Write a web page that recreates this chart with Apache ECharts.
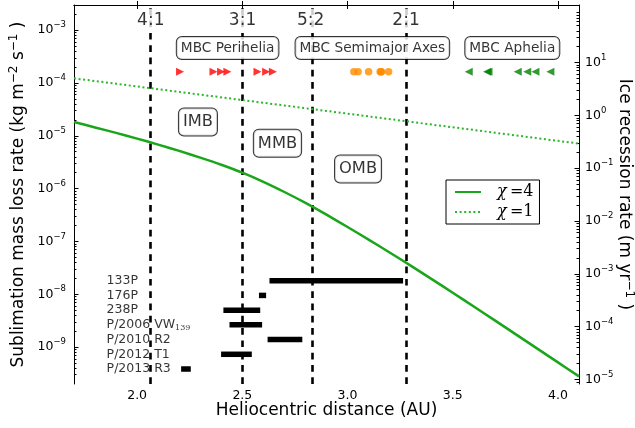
<!DOCTYPE html>
<html><head><meta charset="utf-8">
<script src="https://cdn.jsdelivr.net/npm/echarts@6/dist/echarts.min.js"></script>
<style>html,body{margin:0;padding:0;background:#fff}#c{width:635px;height:428px}</style>
</head><body><div id="c"></div><script>
// ---------------- data ----------------
// chi = 4 sublimation curve (AU, kg m^-2 s^-1)
const solidR = [1.7,1.8,1.9,2.0,2.1,2.2,2.3,2.4,2.5,2.6,2.7,2.8,2.9,3.0,3.1,3.2,3.3,3.4,3.5,3.6,3.7,3.8,3.9,4.0,4.1];
const solidRate = [1.827e-5,1.443e-5,1.136e-5,8.86e-6,6.82e-6,5.18e-6,3.87e-6,2.84e-6,2.01e-6,1.347e-6,8.64e-7,5.37e-7,3.21e-7,1.878e-7,1.084e-7,6.18e-8,3.48e-8,1.938e-8,1.071e-8,5.87e-9,3.20e-9,1.738e-9,9.44e-10,5.13e-10,2.786e-10];
// chi = 1 curve
const dottedR = [1.7,1.9,2.1,2.3,2.5,2.7,2.9,3.1,3.3,3.5,3.7,3.9,4.1];
const dottedRate = [1.228e-4,9.69e-5,7.64e-5,6.03e-5,4.755e-5,3.75e-5,2.96e-5,2.335e-5,1.841e-5,1.453e-5,1.146e-5,9.04e-6,7.13e-6];
// resonances
const resNames = ['4:1','3:1','5:2','2:1'];
const resAU = [2.065,2.501,2.825,3.278];
// main-belt comets
const mbcNames = ['133P','176P','238P','P/2006 VW139','P/2010 R2','P/2012 T1','P/2013 R3'];
const mbcPerihelion = [2.645,2.572,2.363,2.429,2.613,2.399,2.204];
const mbcSemimajor  = [3.16,3.195,3.16,3.05,3.10,3.155,3.03];
const mbcAphelion   = [3.67,3.809,3.964,3.663,3.576,3.893,3.854];
const activeStart = [2.629,2.579,2.410,2.439,2.620,2.399,2.209];
const activeEnd   = [3.264,2.613,2.585,2.594,2.785,2.545,2.255];
// text annotations
const boxTitles = ['MBC Perihelia','MBC Semimajor Axes','MBC Aphelia'];
const regionNames = ['IMB','MMB','OMB'];
// axis ticks
const xTicks = [2.0,2.5,3.0,3.5,4.0];
const leftTicks = [1e-9,1e-8,1e-7,1e-6,1e-5,1e-4,1e-3];
const rightTicks = [1e-5,1e-4,1e-3,1e-2,1e-1,1e0,1e1];

// ---------------- layout constants ----------------
const X_MIN = 1.7, X_MAX = 4.1;
const Y_MIN = 2e-10, Y_MAX = 3e-3;
const K = 4.1e4; // kg m^-2 s^-1 -> m/yr
const ROW_TOP = 0.7274, ROW_STEP = 0.03884; // axes fraction (0 = top)
const MARKER_ROW = 0.176, BOX_ROW = 0.1135, RES_ROW = 0.041;
const boxX = [2.430, 3.118, 3.783];
const regionPos = [[2.289, 0.3087],[2.667, 0.3649],[3.050, 0.4327]];
const NAME_X = 1.855;

const FONT = 'DejaVu Sans';
const GREEN = '#1aa61a';

function minors(lo, hi){
  const out=[];
  for(let e=Math.floor(Math.log10(lo)); e<=Math.ceil(Math.log10(hi)); e++){
    for(let m=2;m<=9;m++){const v=m*Math.pow(10,e); if(v>lo&&v<hi) out.push(v);}
  }
  return out;
}
function powLabel(v){
  const e = Math.round(Math.log10(v));
  return '{b|10}{s|' + (e<0?'\u2212':'') + Math.abs(e) + '}';
}
const powRich = {
  b:{fontSize:12.5, fontFamily:FONT, color:'#000'},
  s:{fontSize:8.5, fontFamily:FONT, color:'#000', padding:[0,0,10,0]}
};

const zip = (a,b)=>a.map((v,i)=>[v,b[i]]);

const baseLogAxis = (min,max,pos)=>({
  type:'log', logBase:10, min:min, max:max, position:pos, gridIndex:0,
  splitLine:{show:false}
});

const option = {
  animation:false,
  backgroundColor:'#fff',
  grid:{left:74, right:56, top:5, bottom:44, containLabel:false, outerBoundsMode:'none'},
  xAxis:[
    {type:'value', min:X_MIN, max:X_MAX, position:'bottom',
     axisLine:{lineStyle:{color:'#000',width:1}},
     axisTick:{inside:true,length:4,lineStyle:{color:'#000'},customValues:xTicks},
     axisLabel:{customValues:xTicks, formatter:v=>v.toFixed(1), fontSize:12.5, fontFamily:FONT, color:'#000', margin:5},
     splitLine:{show:false},
     name:'Heliocentric distance (AU)', nameLocation:'middle', nameGap:18, nameMoveOverlap:false,
     nameTextStyle:{fontSize:17, fontFamily:FONT, color:'#000'}},
    {type:'value', min:X_MIN, max:X_MAX, position:'top',
     axisLine:{lineStyle:{color:'#000',width:1}},
     axisTick:{inside:true,length:4,lineStyle:{color:'#000'},customValues:xTicks},
     axisLabel:{show:false}, splitLine:{show:false}}
  ],
  yAxis:[
    Object.assign(baseLogAxis(Y_MIN,Y_MAX,'left'),{
      axisLine:{show:true,lineStyle:{color:'#000',width:1}},
      axisTick:{show:true,inside:true,length:4.5,lineStyle:{color:'#000'},customValues:leftTicks},
      axisLabel:{customValues:leftTicks, formatter:powLabel, rich:powRich, margin:8},
      name:'{n|Sublimation mass loss rate (kg m}{s|\u22122}{n| s}{s|\u22121}{n| )}',
      nameLocation:'middle', nameGap:44, nameMoveOverlap:false,
      nameTextStyle:{rich:{n:{fontSize:17,fontFamily:FONT,color:'#000'},s:{fontSize:12,fontFamily:FONT,color:'#000',padding:[0,0,10,0]}}}
    }),
    Object.assign(baseLogAxis(Y_MIN,Y_MAX,'left'),{
      axisLine:{show:false},
      axisTick:{show:true,inside:true,length:2.5,lineStyle:{color:'#000'},customValues:minors(Y_MIN,Y_MAX)},
      axisLabel:{show:false}
    }),
    Object.assign(baseLogAxis(Y_MIN*K,Y_MAX*K,'right'),{
      axisLine:{show:true,lineStyle:{color:'#000',width:1}},
      axisTick:{show:true,inside:true,length:4.5,lineStyle:{color:'#000'},customValues:rightTicks},
      axisLabel:{customValues:rightTicks, formatter:powLabel, rich:powRich, margin:6},
      name:'{n|Ice recession rate (m yr}{s|\u22121}{n| )}',
      nameLocation:'middle', nameGap:34, nameRotate:-90, nameMoveOverlap:false,
      nameTextStyle:{rich:{n:{fontSize:17,fontFamily:FONT,color:'#000'},s:{fontSize:12,fontFamily:FONT,color:'#000',padding:[0,0,10,0]}}}
    }),
    Object.assign(baseLogAxis(Y_MIN*K,Y_MAX*K,'right'),{
      axisLine:{show:false},
      axisTick:{show:true,inside:true,length:2.5,lineStyle:{color:'#000'},customValues:minors(Y_MIN*K,Y_MAX*K)},
      axisLabel:{show:false}
    }),
    {type:'value', min:0, max:1, inverse:true, show:false, gridIndex:0}
  ],
  legend:{
    orient:'vertical', left:446, top:180,
    data:['\u03c7=4','\u03c7=1'],
    backgroundColor:'#fff', borderColor:'#000', borderWidth:1, borderRadius:0,
    padding:[4,6,4,8], itemWidth:26, itemHeight:14, itemGap:4,
    itemStyle:{opacity:0},
    formatter:n=>'{sp|}{x|\u03c7}{e|\u2009=' + n.split('=')[1] + '}',
    textStyle:{lineHeight:16, rich:{
      sp:{width:11},
      x:{fontFamily:'DejaVu Serif', fontStyle:'italic', fontSize:16, color:'#000'},
      e:{fontFamily:'DejaVu Serif', fontSize:16, color:'#000'}
    }}
  },
  series:[
    {type:'line', name:'res', xAxisIndex:0, yAxisIndex:0, data:[], z:1, silent:true,
     markLine:{silent:true, z:1, symbol:['none','none'], label:{show:false},
       lineStyle:{color:'#000', width:2.6, type:[6.7,5.6]},
       data:resAU.map(v=>({xAxis:v}))}},
    {type:'line', name:'\u03c7=4', xAxisIndex:0, yAxisIndex:0, z:4, symbol:'none', showSymbol:false,
     smooth:0.3, data:zip(solidR,solidRate), lineStyle:{color:GREEN,width:2.5}, itemStyle:{color:GREEN}},
    {type:'line', name:'\u03c7=1', xAxisIndex:0, yAxisIndex:0, z:4, symbol:'none', showSymbol:false,
     data:zip(dottedR,dottedRate), lineStyle:{color:'#2db52d',width:2,type:[2,2.6]}, itemStyle:{color:'#2db52d'}},
    // activity ranges
    {type:'custom', name:'active', xAxisIndex:0, yAxisIndex:4, z:3,
     data:activeStart.map((s,i)=>[s,activeEnd[i],i]),
     encode:{x:[0,1]},
     renderItem:(params,api)=>{
       const y = ROW_TOP + api.value(2)*ROW_STEP;
       const p1 = api.coord([api.value(0), y]);
       const p2 = api.coord([api.value(1), y]);
       const h = 5.5;
       return {type:'rect', shape:{x:p1[0], y:p1[1]-h/2, width:p2[0]-p1[0], height:h}, style:{fill:'#000'}};
     }},
    // names
    {type:'scatter', xAxisIndex:0, yAxisIndex:4, z:5, symbolSize:0, silent:true,
     data:mbcNames.map((n,i)=>({name:n, value:[NAME_X, ROW_TOP+i*ROW_STEP]})),
     label:{show:true, position:'right', distance:0,
       formatter:p=>{const m=p.name.match(/^(.*VW)(\d+)$/); return m?('{a|'+m[1]+'}{sub|'+m[2]+'}'):('{a|'+p.name+'}');},
       rich:{a:{fontSize:12.5,fontFamily:FONT,color:'#000'}, sub:{fontSize:8,fontFamily:'DejaVu Serif',color:'#000',padding:[6,0,0,0]}}}},
    // perihelia
    {type:'scatter', xAxisIndex:0, yAxisIndex:4, z:5, symbol:'triangle', symbolRotate:-90, symbolSize:8,
     itemStyle:{color:'#ff0000'}, data:mbcPerihelion.map(v=>[v,MARKER_ROW])},
    // semimajor axes
    {type:'scatter', xAxisIndex:0, yAxisIndex:4, z:5, symbol:'circle', symbolSize:7.5,
     itemStyle:{color:'#ff8c00'}, data:mbcSemimajor.map(v=>[v,MARKER_ROW])},
    // aphelia
    {type:'scatter', xAxisIndex:0, yAxisIndex:4, z:5, symbol:'triangle', symbolRotate:90, symbolSize:8,
     itemStyle:{color:'#008000'}, data:mbcAphelion.map(v=>[v,MARKER_ROW])},
    // box titles
    {type:'scatter', xAxisIndex:0, yAxisIndex:4, z:6, symbolSize:0, silent:true,
     data:boxTitles.map((t,i)=>({name:t, value:[boxX[i], BOX_ROW]})),
     label:{show:true, position:'inside', formatter:'{b}', fontSize:13.7, fontFamily:FONT, color:'#000',
       backgroundColor:'#fff', borderColor:'#000', borderWidth:1, borderRadius:5, padding:[3,4,3,4], lineHeight:16}},
    // region labels
    {type:'scatter', xAxisIndex:0, yAxisIndex:4, z:6, symbolSize:0, silent:true,
     data:regionNames.map((t,i)=>({name:t, value:regionPos[i]})),
     label:{show:true, position:'inside', formatter:'{b}', fontSize:16.3, fontFamily:FONT, color:'#000',
       backgroundColor:'#fff', borderColor:'#000', borderWidth:1, borderRadius:5, padding:[4,4,4,4], lineHeight:19}},
    // resonance labels
    {type:'scatter', xAxisIndex:0, yAxisIndex:4, z:6, symbolSize:0, silent:true,
     data:resNames.map((t,i)=>({name:t, value:[resAU[i], RES_ROW]})),
     label:{show:true, position:'inside', formatter:'{b}', fontSize:17, fontFamily:FONT, color:'#000',
       backgroundColor:'#fff', padding:[3,2,3,2]}}
  ]
};
const chart = echarts.init(document.getElementById('c'));
chart.setOption(option);
</script></body></html>
